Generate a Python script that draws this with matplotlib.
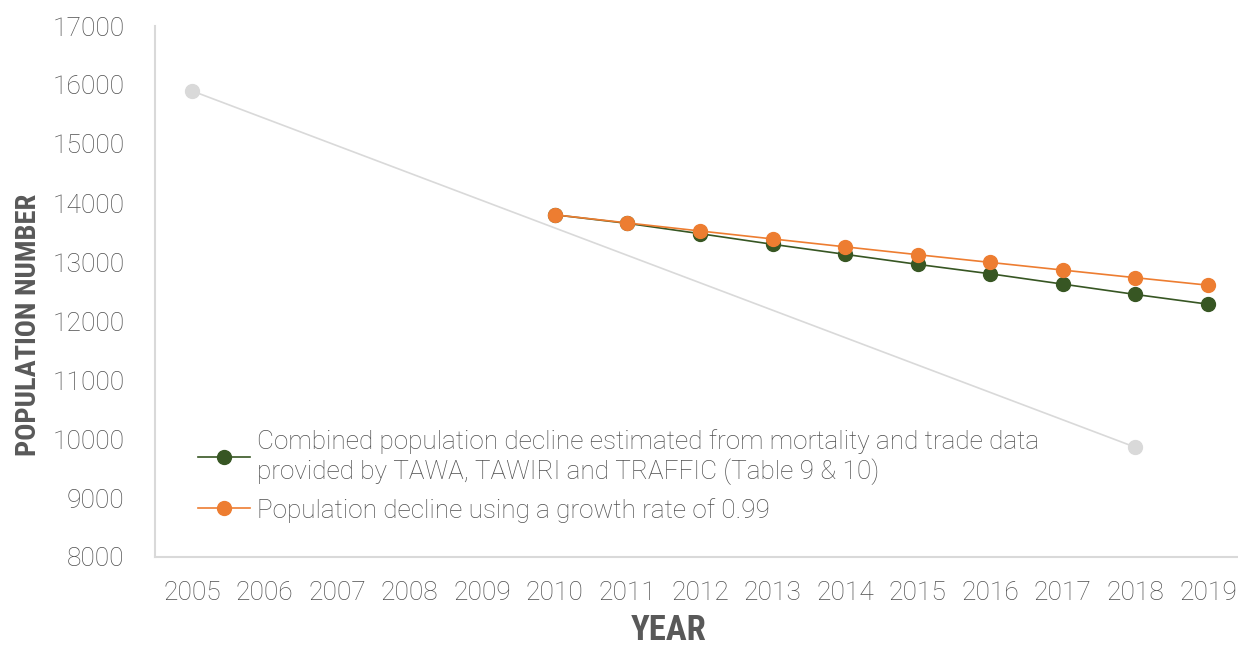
import matplotlib.pyplot as plt

years = list(range(2005, 2020))
year_labels = [str(y) for y in years]

# simple linear projection (only two points shown)
gray_years = [2005, 2018]
gray_values = [15900, 9860]

combined_years = list(range(2010, 2020))
combined_values = [13800, 13655, 13480, 13300, 13130, 12960, 12800, 12625, 12450, 12285]

growth_years = list(range(2010, 2020))
growth_values = [13800, 13662, 13526, 13391, 13257, 13124, 12993, 12863, 12734, 12607]

label_combined = ("Combined population decline estimated from mortality and trade data\n"
                  "provided by TAWA, TAWIRI and TRAFFIC (Table 9 & 10)")
label_growth = "Population decline using a growth rate of 0.99"

text_col = "#595959"
light_col = "#4f4f4f"
tick_font = dict(family=["Roboto", "DejaVu Sans"], size=19, weight="light")
title_font = dict(family=["Roboto Condensed", "Liberation Sans Narrow",
                          "Noto Sans Condensed", "Noto Sans", "DejaVu Sans"],
                  weight="bold", fontstretch="condensed")

fig = plt.figure(figsize=(12.38, 6.49), dpi=100)
ax = fig.add_axes([155 / 1238, 92 / 649, 1083 / 1238, 531 / 649])

ax.plot(gray_years, gray_values, color="#d9d9d9", lw=1.2, marker="o", ms=10,
        zorder=2)
ax.plot(combined_years, combined_values, color="#375623", lw=1.2, marker="o",
        ms=10, zorder=3, label=label_combined)
ax.plot(growth_years, growth_values, color="#ed7d31", lw=1.2, marker="o",
        ms=10, zorder=4, label=label_growth)

ax.set_xlim(2005 - 37 / 72.57, 2019 + 30 / 72.57)
ax.set_ylim(8000, 17000)
ax.set_xticks(years)
ax.set_xticklabels(year_labels, fontdict=tick_font, color=light_col)
ax.set_yticks(range(8000, 17001, 1000))
ax.set_yticklabels([str(v) for v in range(8000, 17001, 1000)], fontdict=tick_font,
                   color=light_col)
ax.tick_params(axis="x", length=0, pad=17)
ax.tick_params(axis="y", length=0, pad=22)

for s in ["top", "right"]:
    ax.spines[s].set_visible(False)
for s in ["left", "bottom"]:
    ax.spines[s].set_color("#d9d9d9")
    ax.spines[s].set_linewidth(1.5)

ax.set_xlabel("YEAR", fontsize=25, color=text_col, **title_font)
ax.xaxis.set_label_coords(0.474, -0.108)
ax.set_ylabel("POPULATION NUMBER", fontsize=20.5, color=text_col, **title_font)
ax.yaxis.set_label_coords(-0.104, 0.437)

leg = ax.legend(loc="upper left", bbox_to_anchor=(198 / 1238, 1 - 429 / 649),
                bbox_transform=fig.transFigure, frameon=False,
                prop=dict(family=["Roboto", "DejaVu Sans"], size=18.8, weight="light"),
                handlelength=2.0, handletextpad=0.25, borderpad=0, borderaxespad=0,
                labelspacing=0.5)
for t in leg.get_texts():
    t.set_color(light_col)

fig.savefig("out.png", dpi=100)
